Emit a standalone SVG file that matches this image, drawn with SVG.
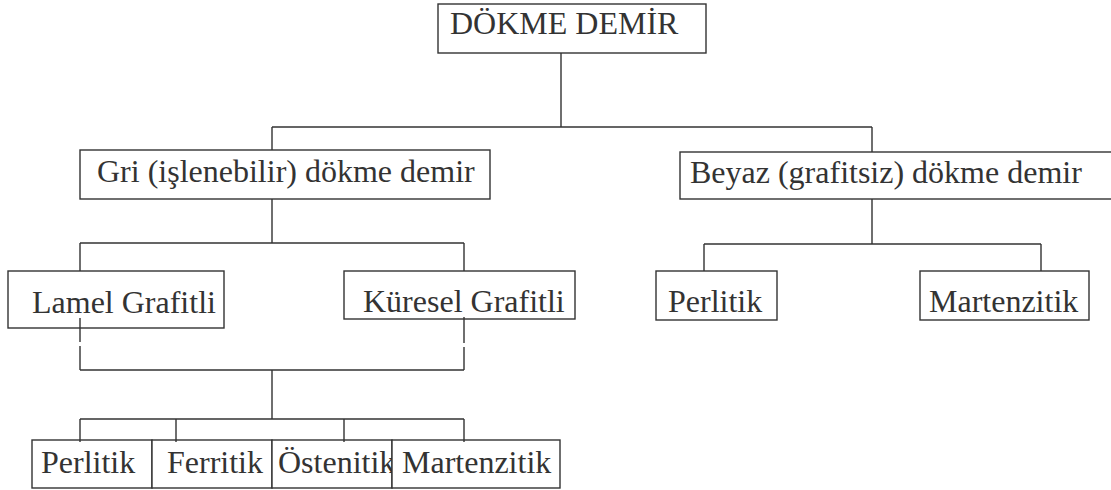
<svg xmlns="http://www.w3.org/2000/svg" width="1111" height="490" viewBox="0 0 1111 490">
<style>
.box{fill:#fff;stroke:#333;stroke-width:1.4}
.t{font-family:"Liberation Serif","Times New Roman",serif;font-size:32px;fill:#333}
.c{fill:none;stroke:#333;stroke-width:1.4}
</style>
<rect width="1111" height="490" fill="#fff"/>
<g id="connectors">
<path class="c" d="M561 53V127M272 127H872M272 127V150M872 127V152"/>
<path class="c" d="M272 199V243M80 243H464M80 243V271M464 243V271"/>
<path class="c" d="M872 199V244M704 244H1041M704 244V271M1041 244V271"/>
</g>
<g id="n-root"><rect class="box" x="438" y="4" width="268" height="49"/><text class="t" x="450" y="34">DÖKME DEMİR</text></g>
<g id="n-gri"><rect class="box" x="80" y="150" width="410" height="49"/><text class="t" x="97" y="182">Gri (işlenebilir) dökme demir</text></g>
<g id="n-beyaz"><rect class="box" x="680" y="152" width="440" height="47"/><text class="t" x="690" y="183">Beyaz (grafitsiz) dökme demir</text></g>
<g id="n-lamel"><rect class="box" x="8" y="271" width="216" height="57"/><text class="t" x="32" y="313">Lamel Grafitli</text></g>
<g id="n-kuresel"><rect class="box" x="344" y="271" width="231" height="48"/><text class="t" x="363" y="312">Küresel Grafitli</text></g>
<g id="n-perlitik-b"><rect class="box" x="656" y="271" width="121" height="49"/><text class="t" x="668" y="312">Perlitik</text></g>
<g id="n-martenzitik-b"><rect class="box" x="920" y="271" width="169" height="49"/><text class="t" x="929" y="312">Martenzitik</text></g>
<g id="n-perlitik"><rect class="box" x="32" y="440" width="120" height="48"/><text class="t" x="41" y="473">Perlitik</text></g>
<g id="n-ferritik"><rect class="box" x="152" y="440" width="120" height="48"/><text class="t" x="167" y="473">Ferritik</text></g>
<g id="n-ostenitik"><rect class="box" x="272" y="440" width="120" height="48"/><text class="t" x="278" y="473">Östenitik</text></g>
<g id="n-martenzitik"><rect class="box" x="392" y="440" width="168" height="48"/><text class="t" x="402" y="473">Martenzitik</text></g>
<g id="connectors-lower">
<path class="c" d="M80 318V342M80 346V370M464 317V343M464 347V370M80 370H464M272 370V419M80 419H464M80 419V442M176 419V442M344 419V442M464 419V442"/>
</g>
</svg>
